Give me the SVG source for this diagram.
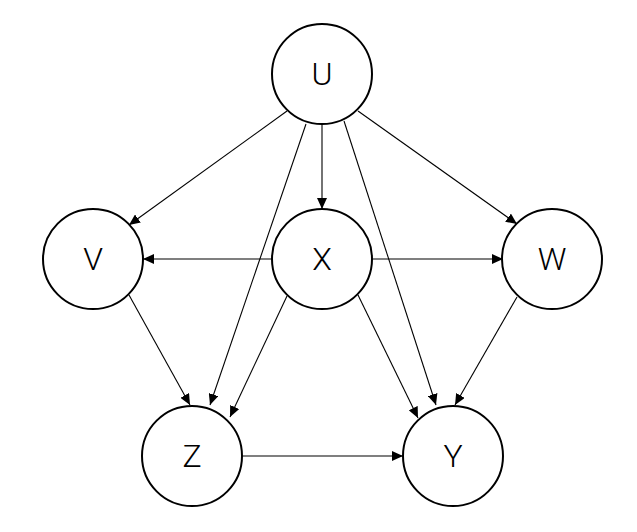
<svg xmlns="http://www.w3.org/2000/svg" width="637" height="532" viewBox="0 0 637 532">
<style>
.node circle{fill:#fff;stroke:#000;stroke-width:2}
.node text{font-family:Roboto,"Liberation Sans",sans-serif;font-weight:300;font-size:32px;fill:#000;text-anchor:middle;dominant-baseline:central}
.edges line{stroke:#000;stroke-width:1.1;fill:none;marker-end:url(#arrow)}
</style>
<defs>
<marker id="arrow" markerUnits="userSpaceOnUse" markerWidth="12" markerHeight="10" refX="11" refY="5" orient="auto">
<path d="M0,0 L11,5 L0,10 z" fill="#000"/>
</marker>
</defs>
<rect width="637" height="532" fill="#fff"/>
<g class="edges">
<line x1="287" y1="111" x2="129" y2="225"/>
<line x1="322" y1="124" x2="322" y2="209"/>
<line x1="358" y1="111" x2="517" y2="224"/>
<line x1="306" y1="124" x2="210" y2="405"/>
<line x1="344" y1="121" x2="436" y2="405"/>
<line x1="273" y1="259" x2="143" y2="259"/>
<line x1="373" y1="259" x2="503" y2="259"/>
<line x1="287" y1="296" x2="230" y2="417"/>
<line x1="358" y1="295" x2="418" y2="418"/>
<line x1="129" y1="295" x2="190" y2="405"/>
<line x1="517" y1="297" x2="455" y2="405"/>
<line x1="242" y1="456" x2="403" y2="456"/>
</g>
<g id="U" class="node"><circle cx="322" cy="74" r="50"/><text x="322" y="74">U</text></g>
<g id="V" class="node"><circle cx="93" cy="259" r="50"/><text x="93" y="259">V</text></g>
<g id="X" class="node"><circle cx="322" cy="259" r="50"/><text x="322" y="259">X</text></g>
<g id="W" class="node"><circle cx="552" cy="259" r="50"/><text x="552" y="259">W</text></g>
<g id="Z" class="node"><circle cx="192" cy="456" r="50"/><text x="192" y="456">Z</text></g>
<g id="Y" class="node"><circle cx="453" cy="456" r="50"/><text x="453" y="456">Y</text></g>
</svg>
